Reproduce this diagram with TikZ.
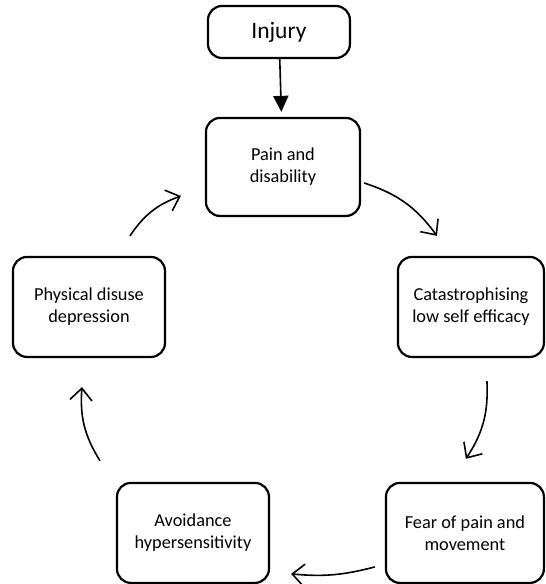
\documentclass[tikz,border=0pt]{standalone}
\usepackage{fontspec}
\setmainfont{Carlito}
\usetikzlibrary{arrows.meta}

\begin{document}
\begin{tikzpicture}[x=1pt, y=1pt, node distance=140pt]
                \tikzset{ block/.style={rectangle,draw,line width=2.2pt,rounded corners=14pt,minimum width=152pt,minimum height=100pt,align=center,font=\fontsize{18.3}{22}\selectfont},
                        cycarrow/.style={-{Straight Barb[length=12pt,width=22pt]}, line width=1.6pt, bend left=18},
                        downarrow/.style={-{Triangle[length=16pt,width=15pt]}, line width=1.6pt}}
                \node[block, minimum width=154pt, minimum height=98pt] (pain) {Pain and\\disability};
                \node[block, above of = pain, xshift=-4pt, yshift=-5pt, minimum width=142pt, minimum height=52pt, font=\fontsize{23.5}{28}\selectfont] (injury) {Injury};
                \node[block, below of = pain, xshift=188pt, minimum width=146pt] (cat) {Catastrophising\\low self efficacy};
                \node[block, below of = cat, yshift=-86pt, xshift=-6pt, minimum width=158pt] (fear) {Fear of pain and\\movement};
                \node[block, below of = pain, xshift=-194pt] (phys) {Physical disuse\\depression};
                \node[block, below of = phys, yshift=-86pt, xshift=104pt] (avoid) {Avoidance\\hypersensitivity};
                \useasboundingbox ([shift={(-283,167)}]pain.center) rectangle ([shift={(262,-417)}]pain.center);

                % Flèches
                \draw[downarrow, shorten >=5pt] (injury) -- (pain);
                \draw[cycarrow] ([shift={(3,-16)}]pain.east) to ([shift={(-34,20)}]cat.north);
                \draw[cycarrow] ([shift={(16,-23)}]cat.south) to ([shift={(1,23)}]fear.north);
                \draw[cycarrow, bend left=10] ([shift={(-10,-34)}]fear.west) to ([shift={(21,-41)}]avoid.east);
                \draw[cycarrow] ([shift={(-93,21)}]avoid.north) to ([shift={(-7,-29)}]phys.south);
                \draw[cycarrow] ([shift={(41,20)}]phys.north) to ([shift={(-24,-29)}]pain.west);

            \end{tikzpicture}
\end{document}
